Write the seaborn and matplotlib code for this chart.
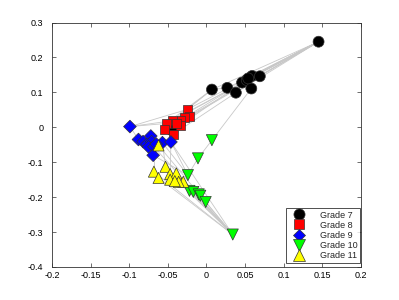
import numpy as np
import pandas as pd
import matplotlib
matplotlib.use("Agg")
import matplotlib.pyplot as plt
from matplotlib.ticker import FormatStrFormatter
import seaborn as sns

# node positions per grade
g7_x = [0.145, 0.007, 0.027, 0.038, 0.046, 0.052, 0.059, 0.069, 0.058, 0.054, -0.045]
g7_y = [0.245, 0.108, 0.113, 0.099, 0.128, 0.135, 0.147, 0.146, 0.111, 0.140, -0.008]
g8_x = [-0.025, -0.022, -0.028, -0.033, -0.034, -0.044, -0.052, -0.054, -0.043, -0.039]
g8_y = [0.051, 0.030, 0.028, 0.019, 0.006, 0.019, 0.011, -0.006, -0.020, 0.011]
g9_x = [-0.099, -0.088, -0.082, -0.077, -0.072, -0.071, -0.075, -0.068, -0.057, -0.046, -0.069, -0.065]
g9_y = [0.002, -0.035, -0.041, -0.048, -0.025, -0.041, -0.056, -0.056, -0.044, -0.042, -0.080, -0.048]
g10_x = [0.007, -0.011, -0.024, -0.022, -0.017, -0.010, -0.008, -0.001, 0.034]
g10_y = [-0.037, -0.089, -0.137, -0.182, -0.185, -0.192, -0.196, -0.214, -0.307]
g11_x = [-0.062, -0.068, -0.053, -0.047, -0.039, -0.030, -0.062, -0.047, -0.036, -0.041]
g11_y = [-0.052, -0.127, -0.113, -0.134, -0.132, -0.156, -0.145, -0.150, -0.156, -0.154]

grades = ["Grade 7", "Grade 8", "Grade 9", "Grade 10", "Grade 11"]

# edges between nodes (index into the concatenated node list)
edge_src = [0, 0, 0, 0, 0, 0, 0, 0, 0, 0, 0, 0, 0, 1, 1, 1, 1, 8, 33, 34, 3, 21, 21, 21, 21,
            41, 41, 41, 41, 41, 41, 41, 41, 41, 41, 41, 35, 35, 35, 42, 29, 30, 28, 36, 37, 47, 4, 9]
edge_dst = [1, 2, 3, 4, 5, 6, 7, 9, 11, 12, 14, 16, 17, 11, 16, 17, 2, 33, 34, 35, 19, 16, 17, 11, 22,
            42, 43, 44, 45, 46, 47, 48, 36, 40, 28, 30, 29, 30, 31, 31, 44, 45, 43, 40, 38, 36, 13, 15]

xs = g7_x + g8_x + g9_x + g10_x + g11_x
ys = g7_y + g8_y + g9_y + g10_y + g11_y
labels = (["Grade 7"] * len(g7_x) + ["Grade 8"] * len(g8_x) + ["Grade 9"] * len(g9_x)
          + ["Grade 10"] * len(g10_x) + ["Grade 11"] * len(g11_x))
df = pd.DataFrame({"x": xs, "y": ys, "grade": labels})

sns.set_style("white")
plt.rcParams["font.family"] = ["Liberation Sans", "DejaVu Sans"]
plt.rcParams["axes.unicode_minus"] = False

fig = plt.figure(figsize=(3.99, 3.0), dpi=100)
ax = fig.add_axes([0.13, 0.11, 0.775, 0.815])

for s, d in zip(edge_src, edge_dst):
    ax.plot([xs[s], xs[d]], [ys[s], ys[d]], color="#c8c8c8", lw=0.6, zorder=1)

palette = {"Grade 7": "#000000", "Grade 8": "#ff0000", "Grade 9": "#0000ff",
           "Grade 10": "#00ff00", "Grade 11": "#ffff00"}
markers = {"Grade 7": "o", "Grade 8": "s", "Grade 9": "D", "Grade 10": "v", "Grade 11": "^"}
sns.scatterplot(data=df, x="x", y="y", hue="grade", style="grade", hue_order=grades,
                style_order=grades, palette=palette, markers=markers, s=55,
                edgecolor="#333333", linewidth=0.5, ax=ax, zorder=3)

# per-shape marker areas so all shapes look the same size
area = {"Grade 7": 62, "Grade 8": 40, "Grade 9": 42, "Grade 10": 64, "Grade 11": 64}
ax.collections[0].set_sizes([area[g] for g in labels])

ax.set_xlim(-0.2, 0.2)
ax.set_ylim(-0.4, 0.3)
ax.set_xticks(np.round(np.arange(-0.2, 0.201, 0.05), 2) + 0.0)
ax.set_yticks(np.round(np.arange(-0.4, 0.301, 0.1), 1) + 0.0)
ax.xaxis.set_major_formatter(FormatStrFormatter("%g"))
ax.yaxis.set_major_formatter(FormatStrFormatter("%g"))
ax.set_xlabel("")
ax.set_ylabel("")
ax.tick_params(direction="in", length=3, width=0.5, labelsize=6.5, top=True, right=True,
               bottom=True, left=True, colors="#333333", labelcolor="black")
ax.tick_params(axis="y", pad=6)
ax.tick_params(axis="x", pad=3)
for sp in ax.spines.values():
    sp.set_linewidth(0.6)
    sp.set_color("#333333")

handles, labs = ax.get_legend_handles_labels()
leg_ms = {"Grade 7": 8, "Grade 8": 6.5, "Grade 9": 6.2, "Grade 10": 8.5, "Grade 11": 8.5}
for h, l in zip(handles, labs):
    h.set_markersize(leg_ms[l])
    h.set_markeredgecolor("#333333")
    h.set_markeredgewidth(0.5)
leg = ax.legend(handles, labs, loc="lower right", bbox_to_anchor=(0.997, 0.018),
                fontsize=6.5, frameon=True, fancybox=False, borderaxespad=0,
                handletextpad=1.2, labelspacing=0.12, borderpad=0.3, handlelength=2.2)
leg.get_frame().set_edgecolor("black")
leg.get_frame().set_linewidth(0.6)

fig.savefig("out.png", dpi=100)
